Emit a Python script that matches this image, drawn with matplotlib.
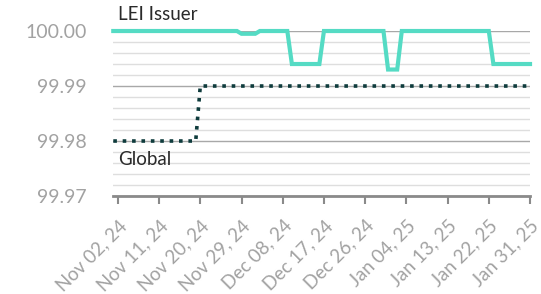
import matplotlib
matplotlib.use("Agg")
import matplotlib.pyplot as plt
import matplotlib.dates as mdates
from matplotlib.ticker import MultipleLocator
from matplotlib import font_manager
import pandas as pd

dates = pd.date_range("2024-11-01", "2025-01-31", freq="D")

# daily values, Nov 01 2024 .. Jan 31 2025
lei_issuer = [
    100.0, 100.0, 100.0, 100.0, 100.0, 100.0, 100.0, 100.0, 100.0, 100.0,
    100.0, 100.0, 100.0, 100.0, 100.0, 100.0, 100.0, 100.0, 100.0, 100.0,
    100.0, 100.0, 100.0, 100.0, 100.0, 100.0, 100.0, 100.0, 99.9995, 99.9995,
    99.9995, 99.9995, 100.0, 100.0, 100.0, 100.0, 100.0, 100.0, 100.0, 99.994,
    99.994, 99.994, 99.994, 99.994, 99.994, 99.994, 100.0, 100.0, 100.0, 100.0,
    100.0, 100.0, 100.0, 100.0, 100.0, 100.0, 100.0, 100.0, 100.0, 100.0,
    99.993, 99.993, 99.993, 100.0, 100.0, 100.0, 100.0, 100.0, 100.0, 100.0,
    100.0, 100.0, 100.0, 100.0, 100.0, 100.0, 100.0, 100.0, 100.0, 100.0,
    100.0, 100.0, 100.0, 99.994, 99.994, 99.994, 99.994, 99.994, 99.994, 99.994,
    99.994, 99.994,
]
global_avg = [
    99.98, 99.98, 99.98, 99.98, 99.98, 99.98, 99.98, 99.98, 99.98, 99.98,
    99.98, 99.98, 99.98, 99.98, 99.98, 99.98, 99.98, 99.98, 99.98, 99.99,
    99.99, 99.99, 99.99, 99.99, 99.99, 99.99, 99.99, 99.99, 99.99, 99.99,
    99.99, 99.99, 99.99, 99.99, 99.99, 99.99, 99.99, 99.99, 99.99, 99.99,
    99.99, 99.99, 99.99, 99.99, 99.99, 99.99, 99.99, 99.99, 99.99, 99.99,
    99.99, 99.99, 99.99, 99.99, 99.99, 99.99, 99.99, 99.99, 99.99, 99.99,
    99.99, 99.99, 99.99, 99.99, 99.99, 99.99, 99.99, 99.99, 99.99, 99.99,
    99.99, 99.99, 99.99, 99.99, 99.99, 99.99, 99.99, 99.99, 99.99, 99.99,
    99.99, 99.99, 99.99, 99.99, 99.99, 99.99, 99.99, 99.99, 99.99, 99.99,
    99.99, 99.99,
]
tick_dates = pd.date_range("2024-11-02", "2025-01-31", freq="9D")

fam = "Lato"
names = {f.name for f in font_manager.fontManager.ttflist}
if fam not in names:
    fam = "DejaVu Sans"
plt.rcParams["font.family"] = [fam, "DejaVu Sans"]

fig = plt.figure(figsize=(5.41, 2.94), dpi=100)
ax = fig.add_axes([0.2094, 0.3333, 0.7703, 0.5612])

ax.plot(dates, lei_issuer, color="#55dbc4", lw=3, solid_joinstyle="miter",
        clip_on=False, zorder=3)
ax.plot(dates, global_avg, color="#0e3b3c", lw=2.6, linestyle=(0, (1, 1.6)),
        dash_capstyle="butt", zorder=3)

ax.set_xlim(dates[0], dates[-1])
ax.set_ylim(99.97, 100.0)

ax.yaxis.set_major_locator(MultipleLocator(0.01))
ax.yaxis.set_minor_locator(MultipleLocator(0.002))
ax.yaxis.set_major_formatter(lambda v, p: f"{v:.2f}")
ax.grid(axis="y", which="major", color="#a8a8a8", lw=1)
ax.grid(axis="y", which="minor", color="#dedede", lw=1)
ax.set_axisbelow(True)

ax.set_xticks(tick_dates)
ax.xaxis.set_major_formatter(mdates.DateFormatter("%b %d, %y"))
for lab in ax.get_xticklabels():
    lab.set_rotation(45)
    lab.set_ha("right")
    lab.set_va("top")
    lab.set_rotation_mode("anchor")

ax.tick_params(axis="y", which="both", length=0, pad=19, labelsize=14,
               labelcolor="#a2a2a2")
ax.tick_params(axis="x", length=6, width=1.5, color="#8a8a8a", pad=9,
               labelsize=13.5, labelcolor="#a2a2a2")

for s in ["top", "right", "left"]:
    ax.spines[s].set_visible(False)
ax.spines["bottom"].set_color("#8a8a8a")
ax.spines["bottom"].set_linewidth(2)

ax.text(pd.Timestamp("2024-11-02"), 100.002, "LEI Issuer", fontsize=13.5,
        color="#2a2a2a", va="baseline", ha="left")
ax.text(pd.Timestamp("2024-11-02"), 99.9757, "Global", fontsize=13.5,
        color="#2a2a2a", va="baseline", ha="left")

fig.savefig("out.png", dpi=100)
